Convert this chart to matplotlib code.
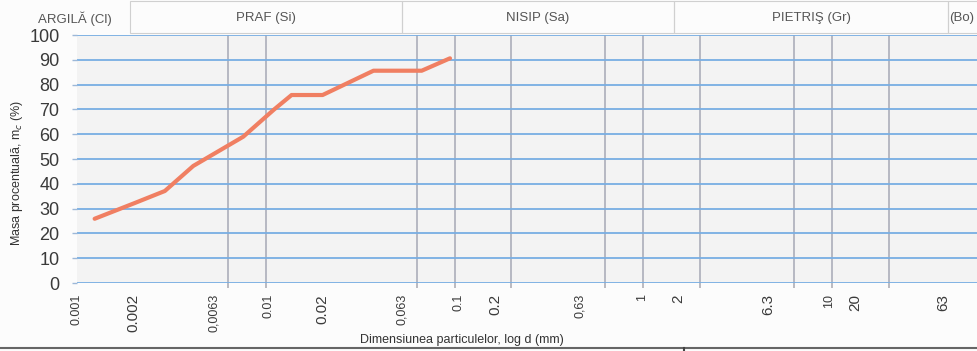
"""Granulometric curve (scanned sheet style): percent passing vs particle size, log axis."""
import matplotlib
matplotlib.use("Agg")
import matplotlib.pyplot as plt
from matplotlib.patches import Rectangle
from matplotlib.ticker import FixedLocator, NullFormatter

# --- data ---
d_mm = [0.00124, 0.002, 0.00292, 0.00413, 0.0076, 0.011, 0.0137, 0.02, 0.0372, 0.067, 0.0946]
pct = [25.9, 32.1, 37.1, 47.2, 59.0, 69.8, 75.8, 75.8, 85.6, 85.6, 90.6]

# vertical grid at the sieve sizes
grid_d = [0.001, 0.002, 0.0063, 0.01, 0.02, 0.063, 0.1, 0.2, 0.63, 1, 2, 6.3, 10, 20, 63]
# tick labels as printed on the sheet, and where the sheet prints them (mm on the log axis)
tick_text = ["0.001", "0.002", "0,0063", "0.01", "0.02", "0,063", "0.1", "0.2",
             "0,63", "1", "2", "6.3", "10", "20", "63"]
tick_at = [0.001, 0.002, 0.0053, 0.0104, 0.02, 0.053, 0.105, 0.165,
           0.46, 0.98, 1.53, 4.6, 9.6, 13.3, 39.0]
tick_big = [False, True, False, False, True, False, False, True,
            False, False, True, True, False, True, True]
y_ticks = list(range(0, 101, 10))

fractions = ["PRAF (Si)", "NISIP (Sa)", "PIETRIŞ (Gr)", "(Bo)"]

plt.rcParams["font.family"] = ["Liberation Sans", "DejaVu Sans"]

W, H = 978, 351
fig = plt.figure(figsize=(W / 100, H / 100), dpi=100, facecolor="#fcfcfc")
ax = fig.add_axes([77 / W, 1 - 283 / H, 1 - 77 / W, (283 - 35) / H])
ax.set_facecolor("#f3f3f3")

ax.set_xscale("log")
ax.set_xlim(0.001, 59.3)
ax.set_ylim(0, 100)

# grid: blue horizontals, grey verticals
ax.xaxis.set_minor_locator(FixedLocator(grid_d))
ax.xaxis.set_minor_formatter(NullFormatter())
ax.xaxis.set_major_locator(FixedLocator(tick_at))
ax.set_xticklabels(tick_text, rotation=90, color="#3a3a3a")
for lab, big in zip(ax.get_xticklabels(), tick_big):
    lab.set_fontsize(11 if big else 9)
    lab.set_va("top")
ax.tick_params(axis="x", which="major", length=0, pad=8)
ax.tick_params(axis="x", which="minor", length=3.6, color="#b4b4bc", width=1.3)
ax.grid(True, axis="x", which="minor", color="#b6b8c2", lw=1.4)

ax.set_yticks(y_ticks)
ax.tick_params(axis="y", length=3.6, color="#9db8d8", width=1, labelsize=13,
               labelcolor="#3a3a3a", pad=9)
ax.grid(True, axis="y", which="major", color="#78aee3", lw=1.3)
ax.set_axisbelow(True)
for s in ax.spines.values():
    s.set_visible(False)

ax.plot(d_mm, pct, color="#f07f62", lw=3.0, solid_capstyle="round", zorder=3)

fig.text(17 / W, 1 - 173 / H, "Masa procentuală, m$_c$ (%)", fontsize=9,
         color="#333333", rotation=90, ha="center", va="center")
fig.text(462 / W, 1 - 340 / H, "Dimensiunea particulelor, log d (mm)", fontsize=9,
         color="#333333", ha="center", va="center")

# header strip with soil fractions
edges = [130, 402, 674, 948, W + 5]
for (x0, x1), name in zip(zip(edges[:-1], edges[1:]), fractions):
    fig.add_artist(Rectangle((x0 / W, 1 - 33 / H), (x1 - x0) / W, 32 / H,
                             transform=fig.transFigure, fill=False,
                             ec="#d0d0d0", lw=0.8))
    cx = (x0 + x1) / 2 if name != "(Bo)" else 962
    fig.text(cx / W, 1 - 18 / H, name, fontsize=9.5, color="#555555",
             ha="center", va="center")
fig.text(75 / W, 1 - 19 / H, "ARGILĂ (Cl)", fontsize=9.5, color="#555555",
         ha="center", va="center")

# bottom border of the sheet
fig.add_artist(plt.Line2D([0, 1], [1 - 348 / H] * 2, transform=fig.transFigure,
                          color="#666666", lw=1.5))
fig.add_artist(plt.Line2D([684 / W] * 2, [0, 1 - 348 / H], transform=fig.transFigure,
                          color="#444444", lw=1.5))

fig.savefig("out.png", dpi=100, facecolor=fig.get_facecolor())
